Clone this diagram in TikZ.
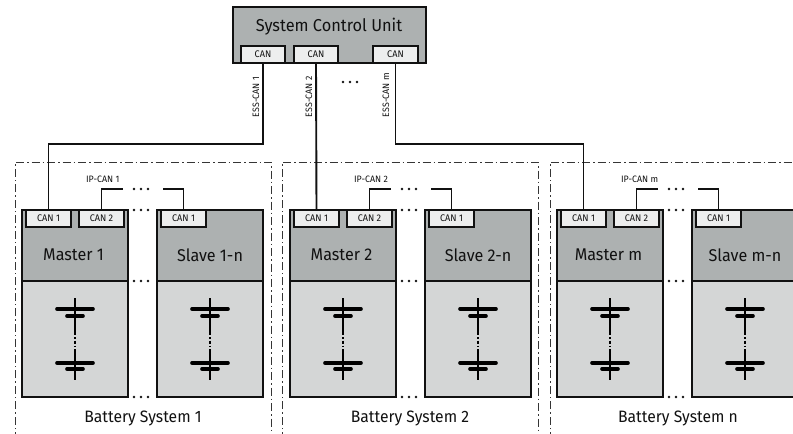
\documentclass[tikz,border=0pt]{standalone}
\usepackage{fontspec}
\setmainfont{Fira Sans}[FakeStretch=0.95]
\definecolor{darkfill}{HTML}{ADB1B1}
\definecolor{lightfill}{HTML}{D4D6D6}
\definecolor{portfill}{HTML}{EDEEEE}
\definecolor{ink}{HTML}{111111}
\newcommand{\threedots}[2]{\fill[ink] (#1,#2) circle (1.4) (#1+7,#2) circle (1.4) (#1+14,#2) circle (1.4);}
\newcommand{\cellpair}[1]{%
  \draw[stem] (#1,298) -- (#1,316) (#1,316) -- (#1,332);
  \draw[stem,dash pattern=on 3pt off 2pt on 1.5pt off 2pt] (#1,332) -- (#1,350);
  \draw[stem] (#1,350) -- (#1,369) (#1,369) -- (#1,380);
  \draw[plate] (#1-18,309) -- (#1+18,309);
  \draw[plate] (#1-8,316) -- (#1+8,316);
  \draw[plate] (#1-18,363) -- (#1+18,363);
  \draw[plate] (#1-8,369) -- (#1+8,369);
}
\tikzset{
  x=1pt,y=-1pt,
  every node/.style={text=ink,inner sep=0pt,outer sep=0pt},
  wire/.style={draw=ink,line width=1.9pt},
  frameline/.style={draw=ink!85,line width=0.8pt,dash pattern=on 8pt off 3pt on 1.5pt off 3pt},
  unitbox/.style={draw=ink,line width=1.9pt,fill=darkfill,minimum width=106pt,minimum height=71pt,anchor=north west},
  cellbox/.style={draw=ink,line width=1.9pt,fill=lightfill,minimum width=106pt,minimum height=116pt,anchor=north west},
  portbox/.style={draw=ink,line width=1.9pt,fill=portfill,minimum width=45pt,minimum height=17pt,anchor=north west,font=\fontsize{9.6}{11}\selectfont},
  smalllabel/.style={font=\fontsize{9.3}{11}\selectfont},
  unitlabel/.style={font=\fontsize{17}{20}\selectfont},
  caption/.style={font=\fontsize{16.5}{19}\selectfont},
  stem/.style={draw=black,line width=1.3pt},
  plate/.style={draw=black,line width=3.6pt,line cap=round},
}
\begin{document}
\begin{tikzpicture}
\clip (0,0) rectangle (793,434);
\fill[white] (0,0) rectangle (793,434);

% battery systems
\foreach \s/\off/\fo/\m/\ip in {1/0/0/1/IP-CAN 1, 2/268/-1/2/IP-CAN 2, 3/535/0/m/IP-CAN m}{
\begin{scope}[shift={(\off,0)}]
  \draw[frameline] (15+\fo,440) -- (15+\fo,162) -- (271+\fo,162) -- (271+\fo,440);
  \node[cellbox] (lowm\s) at (22,281) {};
  \node[cellbox] (lows\s) at (157,281) {};
  \node[unitbox] (master\s) at (22,210) {};
  \node[unitbox] (slave\s) at (157,210) {};
  \node[unitlabel] (mtext\s) at (73.5,255) {Master \m};
  \node[unitlabel] (stext\s) at (210,255) {Slave \m-n};
  \node[portbox] (mcana\s) at (26,210) {CAN 1};
  \node[portbox] (mcanb\s) at (79,210) {CAN 2};
  \node[portbox] (scan\s) at (161,210) {CAN 1};
  \node[smalllabel,anchor=west] (iplabel\s) at (86,179) {\ip};
  \coordinate (ipa\s) at (123,189);
  \coordinate (ipb\s) at (163,189);
  \draw[wire] (mcanb\s.north) |- (ipa\s);
  \draw[wire] (scan\s.north) |- (ipb\s);
  \threedots{134}{189}
  \threedots{134}{210}
  \threedots{134}{281}
  \threedots{134}{397}
  \cellpair{75}
  \cellpair{210}
\end{scope}
}
\node[caption] (bs1) at (143,418) {Battery System 1};
\node[caption] (bs2) at (410,418) {Battery System 2};
\node[caption] (bs3) at (678,418) {Battery System n};

% system control unit
\node[draw=ink,line width=1.9pt,fill=darkfill,minimum width=193pt,minimum height=56pt,anchor=north west] (scu) at (233,7) {};
\node[font=\fontsize{17.2}{20}\selectfont] (scutext) at (329,27) {System Control Unit};
\node[portbox,minimum width=44pt] (can1) at (241,46) {CAN};
\node[portbox,minimum width=44pt] (can2) at (294,46) {CAN};
\node[portbox,minimum width=45pt] (canm) at (373,46) {CAN};

\coordinate (busa) at (48.5,144);
\coordinate (busm) at (583.5,144);
\draw[wire] (can1.south) |- (busa) -- (mcana1.north);
\draw[wire] (can2.south) -- (mcana2.north);
\draw[wire] (canm.south) |- (busm) -- (mcana3.north);

\node[smalllabel,rotate=90,anchor=west] (ess1) at (256,117) {ESS-CAN 1};
\node[smalllabel,rotate=90,anchor=west] (ess2) at (309,117) {ESS-CAN 2};
\node[smalllabel,rotate=90,anchor=west] (essm) at (386,117) {ESS-CAN m};
\threedots{343}{82}
\end{tikzpicture}
\end{document}
